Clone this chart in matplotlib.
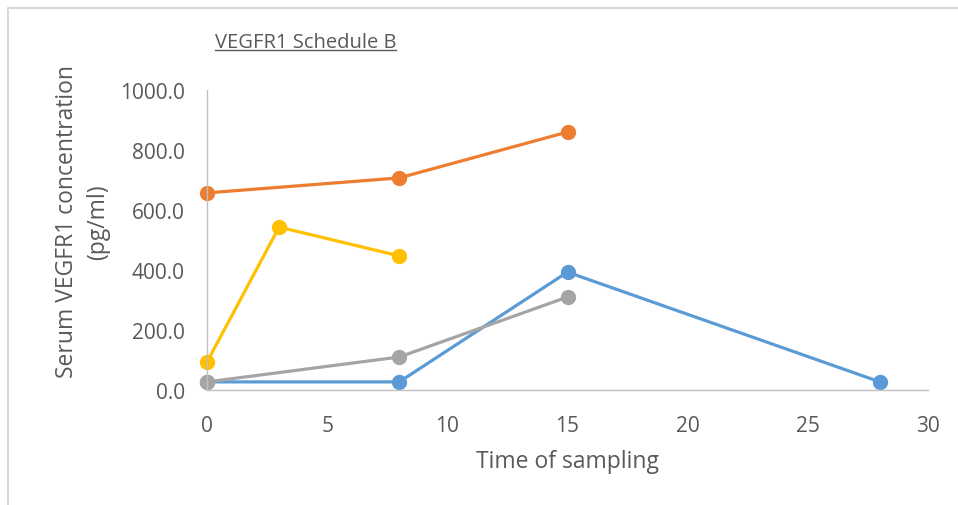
import matplotlib
matplotlib.use("Agg")
import matplotlib.pyplot as plt
from matplotlib.lines import Line2D

# data
days_blue = [0, 8, 15, 28]
vals_blue = [27, 27, 393, 27]
days_orange = [0, 8, 15]
vals_orange = [657, 707, 860]
days_gray = [0, 8, 15]
vals_gray = [27, 110, 310]
days_yellow = [0, 3, 8]
vals_yellow = [93, 543, 447]

xticks = [0, 5, 10, 15, 20, 25, 30]
yticks = [0, 200, 400, 600, 800, 1000]

txt = '#595959'
plt.rcParams['font.family'] = ['Open Sans', 'DejaVu Sans']

fig = plt.figure(figsize=(9.58, 5.06), dpi=100)
ax = fig.add_axes([207 / 958, 1 - 391 / 506, 721 / 958, 300 / 506])

series = [
    (days_blue, vals_blue, '#5B9BD5'),
    (days_orange, vals_orange, '#ED7D31'),
    (days_gray, vals_gray, '#A5A5A5'),
    (days_yellow, vals_yellow, '#FFC000'),
]
for xs, ys, c in series:
    ax.plot(xs, ys, color=c, linewidth=2.3, marker='o', markersize=10,
            clip_on=False, solid_capstyle='round')

ax.set_xlim(0, 30)
ax.set_ylim(0, 1000)
ax.set_xticks(xticks)
ax.set_yticks(yticks)
ax.set_yticklabels([f"{v:.1f}" for v in yticks])
ax.tick_params(length=0, labelsize=15, labelcolor=txt)
ax.tick_params(axis='y', pad=16)
ax.tick_params(axis='x', pad=18)
for s in ['top', 'right']:
    ax.spines[s].set_visible(False)
for s in ['left', 'bottom']:
    ax.spines[s].set_color('#BFBFBF')
    ax.spines[s].set_linewidth(1.0)

fig.text(568 / 958, 1 - 462 / 506, "Time of sampling", ha='center', va='center',
         fontsize=16.5, color=txt)
fig.text(83 / 958, 1 - 222 / 506, "Serum VEGFR1 concentration\n(pg/ml)",
         rotation=90, ha='center', va='center', multialignment='center',
         fontsize=16.5, color=txt, linespacing=1.4)

title = fig.text(215 / 958, 1 - 43 / 506, "VEGFR1 Schedule B", ha='left',
                 va='center', fontsize=14.5, color=txt)
fig.canvas.draw()
bb = title.get_window_extent().transformed(fig.transFigure.inverted())
fig.add_artist(Line2D([bb.x0, bb.x1], [bb.y0 + 0.004, bb.y0 + 0.004],
                      transform=fig.transFigure, color=txt, linewidth=1.0))

# outer frame of the chart (top and left edges visible)
fig.add_artist(Line2D([8 / 958, 8 / 958, 1.0], [0.0, 1 - 9 / 506, 1 - 9 / 506],
                      transform=fig.transFigure, color='#D9D9D9', linewidth=1.5))

fig.savefig("out.png", dpi=100)
